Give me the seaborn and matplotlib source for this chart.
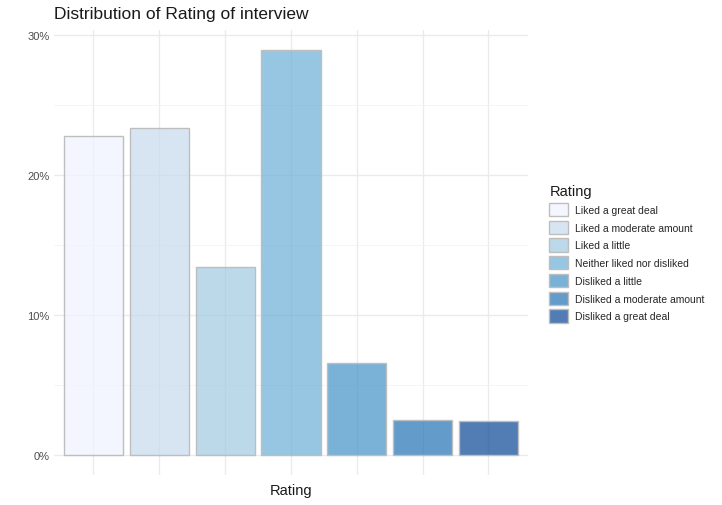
import matplotlib
matplotlib.use("Agg")
import matplotlib.pyplot as plt
import seaborn as sns
import pandas as pd
from matplotlib.colors import to_rgba
from matplotlib.patches import Patch
from matplotlib.ticker import FixedLocator

categories = ["Liked a great deal", "Liked a moderate amount", "Liked a little",
              "Neither liked nor disliked", "Disliked a little",
              "Disliked a moderate amount", "Disliked a great deal"]
percent = [22.8, 23.36, 13.43, 28.93, 6.57, 2.5, 2.43]
palette = ["#EFF3FF", "#C6DBEF", "#9ECAE1", "#6BAED6", "#4292C6", "#2171B5", "#084594"]
y_ticks = [0, 10, 20, 30]
y_labels = ["0%", "10%", "20%", "30%"]

df = pd.DataFrame({"Rating": pd.Categorical(categories, categories=categories, ordered=True),
                   "pct": percent})

sns.set_style("white")
plt.rcParams["font.family"] = ["Liberation Sans", "DejaVu Sans"]

fig = plt.figure(figsize=(7.22, 5.06), dpi=100)
ax = fig.add_axes([54 / 722, 1 - 476 / 506, (528 - 54) / 722, (476 - 31) / 506])

sns.barplot(data=df, x="Rating", y="pct", hue="Rating", palette=palette,
            width=0.9, legend=False, ax=ax, dodge=False)

edge = "#BEBEBE"
for p, c in zip(ax.patches, palette):
    p.set_alpha(None)
    p.set_facecolor(to_rgba(c, 0.7))
    p.set_edgecolor(edge)
    p.set_linewidth(1.0)
    p.set_zorder(3)

ax.set_xlim(-0.6, 6.6)
ymax = max(percent)
ax.set_ylim(-0.05 * ymax, ymax * 1.05)
ax.set_yticks(y_ticks)
ax.set_yticklabels(y_labels)
ax.yaxis.set_minor_locator(FixedLocator([5, 15, 25]))
ax.set_xticks(range(len(categories)))
ax.set_xticklabels([])
ax.grid(True, which="major", color="#EBEBEB", linewidth=1.0, zorder=0)
ax.grid(True, which="minor", axis="y", color="#F3F3F3", linewidth=0.6, zorder=0)
ax.set_axisbelow(True)
for s in ax.spines.values():
    s.set_visible(False)
ax.tick_params(axis="both", which="both", length=0, labelsize=8, labelcolor="#4D4D4D", pad=3)
ax.set_xlabel("Rating", fontsize=10.5, color="#1A1A1A", labelpad=3)
ax.set_ylabel("")

fig.text(54 / 722, 1 - 15 / 506, "Distribution of Rating of interview", fontsize=12.5,
         color="#1A1A1A", va="center", ha="left")

handles = [Patch(facecolor=to_rgba(c, 0.7), edgecolor=edge, linewidth=1.0) for c in palette]
leg = fig.legend(handles, categories, title="Rating", loc="upper left",
                 bbox_to_anchor=(540 / 722, 1 - 176 / 506), frameon=False,
                 fontsize=7.5, title_fontsize=10.5, handlelength=1.75, handleheight=1.6,
                 handletextpad=0.7, labelspacing=0.42, alignment="left", borderaxespad=0.5)
leg.get_title().set_color("#1A1A1A")

fig.savefig("out.png", dpi=100)
